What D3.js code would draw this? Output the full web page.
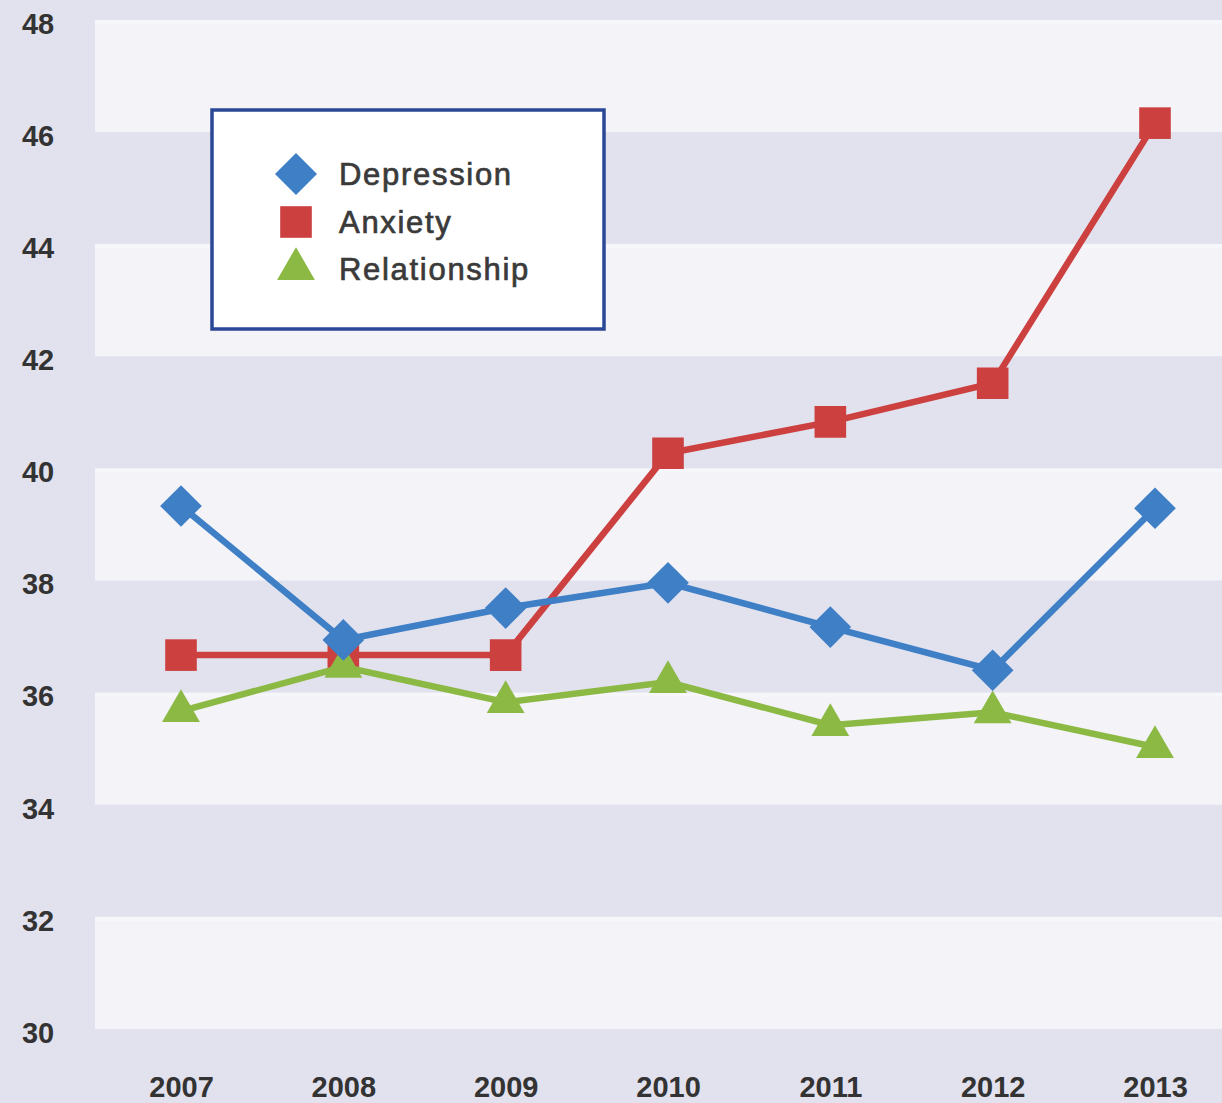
<!DOCTYPE html>
<html>
<head>
<meta charset="utf-8">
<script src="https://cdn.jsdelivr.net/npm/d3@7"></script>
<style>
  body { margin: 0; background: #e2e2ee; }
  .canvas svg { display: block; }
</style>
</head>
<body>
<div class="canvas"></div>
<script>
// data
const years = ['2007', '2008', '2009', '2010', '2011', '2012', '2013'];
const depression = [39.33, 36.94, 37.51, 37.96, 37.17, 36.40, 39.29];
const anxiety = [36.67, 36.67, 36.67, 40.27, 40.83, 41.52, 46.16];
const relationship = [35.67, 36.46, 35.83, 36.19, 35.42, 35.65, 35.03];
const yTicks = [30, 32, 34, 36, 38, 40, 42, 44, 46, 48];
const seriesNames = ['Depression', 'Anxiety', 'Relationship'];

const width = 1222, height = 1103;

const svg = d3.select('.canvas')
  .append('svg')
    .attr('width', width)
    .attr('height', height);

// outer background
svg.append('rect')
  .attr('width', width).attr('height', height)
  .attr('fill', '#e2e2ee');

// scales
const y = d3.scaleLinear()
  .domain([30, 48])
  .range([1029, 20]);

const x = d3.scalePoint()
  .domain(years)
  .range([181, 1155]);

const plotLeft = 95, plotRight = width;

// alternating bands, light ones start at the top (48-46)
const bands = d3.range(30, 48, 2);
const isLight = d => ((48 - (d + 2)) / 2) % 2 === 0;

svg.append('g').selectAll('rect')
  .data(bands)
  .enter()
  .append('rect')
    .attr('x', plotLeft)
    .attr('width', plotRight - plotLeft)
    .attr('y', d => y(d + 2))
    .attr('height', d => y(d) - y(d + 2))
    .attr('fill', d => isLight(d) ? '#f3f3f8' : '#e2e2ee');

// thin whiter strip at top of each light band
svg.append('g').selectAll('rect')
  .data(bands.filter(isLight))
  .enter()
  .append('rect')
    .attr('x', plotLeft)
    .attr('width', plotRight - plotLeft)
    .attr('y', d => y(d + 2))
    .attr('height', 4)
    .attr('fill', '#f7f7fb');

// axes
const yAxis = d3.axisLeft(y).tickValues(yTicks).tickSize(0).tickPadding(0);
const xAxis = d3.axisBottom(x).tickSize(0).tickPadding(0);

const yAxisGroup = svg.append('g')
  .attr('transform', 'translate(38, 4)')
  .call(yAxis);
yAxisGroup.select('.domain').remove();
yAxisGroup.selectAll('text')
  .attr('text-anchor', 'middle')
  .attr('x', 0)
  .attr('font-family', '"Liberation Sans", Arial, sans-serif')
  .attr('font-size', 29)
  .attr('font-weight', 'bold')
  .attr('fill', '#333');

const xAxisGroup = svg.append('g')
  .attr('transform', `translate(0, ${y(30)})`)
  .call(xAxis);
xAxisGroup.select('.domain').remove();
xAxisGroup.selectAll('text')
  .attr('y', 68)
  .attr('dy', 0)
  .attr('font-family', '"Liberation Sans", Arial, sans-serif')
  .attr('font-size', 29)
  .attr('font-weight', 'bold')
  .attr('fill', '#333');

// series
const series = [
  { name: seriesNames[1], values: anxiety, color: '#cc4040', symbol: d3.symbolSquare, size: 1000, rot: 0 },
  { name: seriesNames[2], values: relationship, color: '#8cb944', symbol: d3.symbolTriangle, size: 620, rot: 0 },
  { name: seriesNames[0], values: depression, color: '#3f7fc6', symbol: d3.symbolSquare, size: 870, rot: 45 }
];

const line = d3.line()
  .x((d, i) => x(years[i]))
  .y(d => y(d));

series.forEach(s => {
  const g = svg.append('g');
  g.append('path')
    .datum(s.values)
    .attr('d', line)
    .attr('fill', 'none')
    .attr('stroke', s.color)
    .attr('stroke-width', 6.5);

  g.selectAll('path.marker')
    .data(s.values)
    .enter()
    .append('path')
      .attr('class', 'marker')
      .attr('d', d3.symbol().type(s.symbol).size(s.size))
      .attr('transform', (d, i) => `translate(${x(years[i])}, ${y(d)}) rotate(${s.rot})`)
      .attr('fill', s.color);
});

// legend
const legend = svg.append('g');
legend.append('rect')
  .attr('x', 212).attr('y', 110)
  .attr('width', 392).attr('height', 219)
  .attr('fill', '#ffffff')
  .attr('stroke', '#2b4896')
  .attr('stroke-width', 3.5);

const legendItems = [
  { name: seriesNames[0], color: '#3f7fc6', symbol: d3.symbolSquare, size: 880, rot: 45, y: 174 },
  { name: seriesNames[1], color: '#cc4040', symbol: d3.symbolSquare, size: 1000, rot: 0, y: 222 },
  { name: seriesNames[2], color: '#8cb944', symbol: d3.symbolTriangle, size: 620, rot: 0, y: 269 }
];

legendItems.forEach(item => {
  legend.append('path')
    .attr('d', d3.symbol().type(item.symbol).size(item.size))
    .attr('transform', `translate(296, ${item.y}) rotate(${item.rot})`)
    .attr('fill', item.color);
  legend.append('text')
    .attr('x', 339)
    .attr('y', item.y + 11)
    .attr('font-family', '"Liberation Sans", Arial, sans-serif')
    .attr('font-size', 31)
    .attr('fill', '#3a3a3a')
    .attr('stroke', '#3a3a3a')
    .attr('stroke-width', 0.7)
    .attr('letter-spacing', 1.7)
    .text(item.name);
});
</script>
</body>
</html>
